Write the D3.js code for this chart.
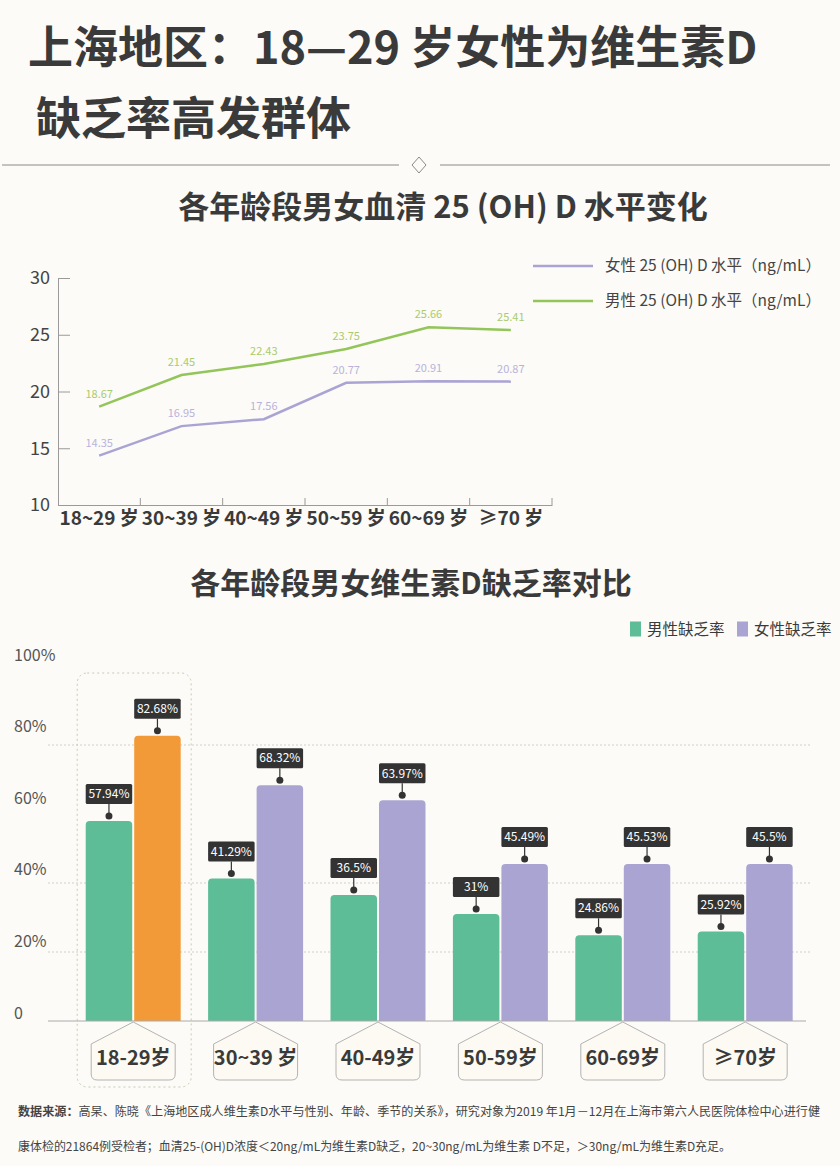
<!DOCTYPE html>
<html>
<head>
<meta charset="utf-8">
<script src="https://cdn.jsdelivr.net/npm/d3@7"></script>
<style>
    body { margin: 0; background: #fcfbf7; }
    svg { display: block; font-family: "Noto Sans CJK SC", "Noto Sans", sans-serif; }
</style>
</head>
<body>
<div id="chart"></div>
<script>
// Serum 25(OH)D level by age group (ng/mL).
const level_categories = ['18~29 岁', '30~39 岁', '40~49 岁', '50~59 岁', '60~69 岁', '≥70 岁'];
const female_level = [14.35, 16.95, 17.56, 20.77, 20.91, 20.87];
const male_level = [18.67, 21.45, 22.43, 23.75, 25.66, 25.41];
const level_ticks = [10, 15, 20, 25, 30];

// Vitamin D deficiency rate by age group (%).
const rate_categories = ['18-29岁', '30~39 岁', '40-49岁', '50-59岁', '60-69岁', '≥70岁'];
const male_rate = [57.94, 41.29, 36.5, 31, 24.86, 25.92];
const female_rate = [82.68, 68.32, 63.97, 45.49, 45.53, 45.5];
const rate_ticks = [0, 20, 40, 60, 80, 100];
const rate_grid = [20, 40, 80];

const text_color = '#3a3a3a';
const green_line = '#93c55a';
const purple_line = '#aaa4d4';
const green_bar = '#5cbd97';
const purple_bar = '#aaa4d2';
const orange_bar = '#f39a38';

const svg = d3.select('#chart')
    .append('svg')
    .attr('width', 840)
    .attr('height', 1166);

function draw_header() {
    const title = svg.append('g')
        .attr('fill', text_color)
        .attr('font-weight', 'bold')
        .attr('font-size', 45);
    title.append('text').attr('x', 28).attr('y', 64).text('上海地区：18—29 岁女性为维生素D');
    title.append('text').attr('x', 36).attr('y', 135).text('缺乏率高发群体');

    // divider with a small diamond in the middle
    const divider = svg.append('g')
        .attr('stroke', '#8a8a8a')
        .attr('fill', 'none')
        .attr('stroke-width', 1);
    divider.append('line').attr('x1', 2).attr('x2', 399).attr('y1', 165).attr('y2', 165);
    divider.append('line').attr('x1', 440).attr('x2', 830).attr('y1', 165).attr('y2', 165);
    divider.append('path').attr('d', 'M419,157 L426,165 L419,173 L412,165 Z');
}

function draw_level_chart() {
    const x = d3.scaleBand()
        .domain(level_categories)
        .range([58, 552]);
    const y = d3.scaleLinear()
        .domain([10, 30])
        .range([505, 278]);
    const cx = (c) => x(c) + x.bandwidth() / 2;

    svg.append('text')
        .attr('x', 443)
        .attr('y', 218)
        .attr('text-anchor', 'middle')
        .attr('font-size', 31)
        .attr('font-weight', 'bold')
        .attr('fill', text_color)
        .text('各年龄段男女血清 25 (OH) D 水平变化');

    const y_axis = svg.append('g')
        .attr('transform', 'translate(58, 0)')
        .call(d3.axisLeft(y)
            .tickValues(level_ticks)
            .tickSize(-12)
            .tickSizeOuter(0)
            .tickPadding(8));
    y_axis.selectAll('line, path').attr('stroke', '#9a9a9a');
    y_axis.selectAll('text')
        .attr('font-size', 18)
        .attr('fill', '#444')
        .attr('font-family', 'Noto Sans CJK SC');

    const x_axis = svg.append('g')
        .attr('transform', `translate(0, ${y(10)})`)
        .call(d3.axisBottom(x)
            .tickSize(0)
            .tickPadding(6));
    x_axis.select('path').attr('stroke', '#9a9a9a');
    x_axis.selectAll('text')
        .attr('font-size', 19)
        .attr('font-weight', 'bold')
        .attr('fill', text_color)
        .attr('font-family', 'Noto Sans CJK SC');
    // ticks sit on the band edges and point up
    x_axis.selectAll('.edge')
        .data(level_categories)
        .join('line')
            .attr('class', 'edge')
            .attr('x1', (d) => x(d) + x.bandwidth())
            .attr('x2', (d) => x(d) + x.bandwidth())
            .attr('y1', 0)
            .attr('y2', -7)
            .attr('stroke', '#9a9a9a');

    const series = [
        { values: female_level, line: purple_line, label: '#b9b3dc' },
        { values: male_level, line: green_line, label: '#a9cb70' },
    ];
    const line = d3.line()
        .x((d, i) => cx(level_categories[i]))
        .y((d) => y(d));

    for (const s of series) {
        svg.append('path')
            .attr('d', line(s.values))
            .attr('fill', 'none')
            .attr('stroke', s.line)
            .attr('stroke-width', 2.5);
        svg.append('g')
            .selectAll('text')
            .data(s.values)
            .join('text')
                .attr('x', (d, i) => cx(level_categories[i]))
                .attr('y', (d) => y(d) - 9)
                .attr('text-anchor', 'middle')
                .attr('font-size', 11)
                .attr('fill', s.label)
                .text((d) => d3.format('.2f')(d));
    }

    // legend
    const legend = [
        { name: '女性 25 (OH) D 水平（ng/mL）', color: purple_line, y: 266 },
        { name: '男性 25 (OH) D 水平（ng/mL）', color: green_line, y: 301 },
    ];
    const lg = svg.append('g')
        .selectAll('g')
        .data(legend)
        .join('g')
            .attr('transform', (d) => `translate(533, ${d.y})`);
    lg.append('line')
        .attr('x2', 60)
        .attr('stroke', (d) => d.color)
        .attr('stroke-width', 2.5);
    lg.append('text')
        .attr('x', 72)
        .attr('dy', '0.35em')
        .attr('font-size', 15.5)
        .attr('fill', '#444')
        .text((d) => d.name);
}

function draw_rate_chart() {
    const x0 = d3.scaleBand()
        .domain(rate_categories)
        .range([72, 806.4])
        .paddingInner(0.224)
        .paddingOuter(0.112);
    const x1 = d3.scaleBand()
        .domain(['male', 'female'])
        .range([0, x0.bandwidth()]);
    const y = d3.scaleLinear()
        .domain([0, 100])
        .range([1021, 676]);
    // tick labels are spaced on their own scale in the original
    const label_y = d3.scaleLinear()
        .domain([0, 100])
        .range([1013, 655]);

    svg.append('text')
        .attr('x', 411)
        .attr('y', 594)
        .attr('text-anchor', 'middle')
        .attr('font-size', 30)
        .attr('font-weight', 'bold')
        .attr('fill', text_color)
        .text('各年龄段男女维生素D缺乏率对比');

    // legend
    const legend = [
        { name: '男性缺乏率', color: green_bar, x: 630 },
        { name: '女性缺乏率', color: purple_bar, x: 737 },
    ];
    const lg = svg.append('g')
        .selectAll('g')
        .data(legend)
        .join('g')
            .attr('transform', (d) => `translate(${d.x}, 629)`);
    lg.append('rect')
        .attr('y', -7.5)
        .attr('width', 11)
        .attr('height', 15)
        .attr('fill', (d) => d.color);
    lg.append('text')
        .attr('x', 17)
        .attr('dy', '0.36em')
        .attr('font-size', 15.5)
        .attr('fill', text_color)
        .text((d) => d.name);

    svg.append('g')
        .selectAll('text')
        .data(rate_ticks)
        .join('text')
            .attr('x', 14)
            .attr('y', (d) => label_y(d))
            .attr('dy', '0.35em')
            .attr('font-size', 16)
            .attr('fill', '#555')
            .text((d) => d === 0 ? '0' : d + '%');

    svg.append('g')
        .selectAll('line')
        .data(rate_grid)
        .join('line')
            .attr('x1', 48)
            .attr('x2', 810)
            .attr('y1', (d) => y(d))
            .attr('y2', (d) => y(d))
            .attr('stroke', '#cfcfcf')
            .attr('stroke-dasharray', '2,2');

    // dotted frame around the highlighted group
    const hl = x0(rate_categories[0]) + x0.bandwidth() / 2;
    svg.append('rect')
        .attr('x', hl - 56)
        .attr('y', 673)
        .attr('width', 114)
        .attr('height', 414)
        .attr('rx', 10)
        .attr('fill', 'none')
        .attr('stroke', '#c5cdb3')
        .attr('stroke-dasharray', '2,3');

    const bars = [];
    rate_categories.forEach((c, i) => {
        bars.push({ cat: c, key: 'male', value: male_rate[i], color: green_bar });
        bars.push({ cat: c, key: 'female', value: female_rate[i], color: i === 0 ? orange_bar : purple_bar });
    });
    const bw = x1.bandwidth() - 1;
    const bar_x = (d) => x0(d.cat) + x1(d.key) + (d.key === 'male' ? 0 : 1);

    // bar with rounded top corners
    function bar_path(d) {
        const left = bar_x(d);
        const top = y(d.value);
        const bottom = y(0);
        const r = 4;
        return `M${left},${bottom} V${top + r} Q${left},${top} ${left + r},${top}` +
            ` H${left + bw - r} Q${left + bw},${top} ${left + bw},${top + r} V${bottom} Z`;
    }

    svg.append('g')
        .selectAll('path')
        .data(bars)
        .join('path')
            .attr('d', bar_path)
            .attr('fill', (d) => d.color);

    svg.append('line')
        .attr('x1', 48)
        .attr('x2', 806)
        .attr('y1', y(0))
        .attr('y2', y(0))
        .attr('stroke', '#aaa');

    // value callouts
    const callout = svg.append('g')
        .selectAll('g')
        .data(bars)
        .join('g')
            .attr('transform', (d) => `translate(${bar_x(d) + bw / 2}, ${y(d.value)})`);
    callout.append('line')
        .attr('y1', -17)
        .attr('y2', -5)
        .attr('stroke', '#333')
        .attr('stroke-width', 1.2);
    callout.append('circle')
        .attr('cy', -5)
        .attr('r', 3.5)
        .attr('fill', '#333');
    callout.append('rect')
        .attr('x', -bw / 2)
        .attr('y', -37)
        .attr('width', bw)
        .attr('height', 20)
        .attr('rx', 1.5)
        .attr('fill', '#333');
    callout.append('text')
        .attr('y', -27)
        .attr('dy', '0.35em')
        .attr('text-anchor', 'middle')
        .attr('font-size', 12)
        .attr('fill', '#fff')
        .text((d) => d.value + '%');

    // category tags, a box with a point that touches the axis
    const tag = svg.append('g')
        .selectAll('g')
        .data(rate_categories)
        .join('g')
            .attr('transform', (d) => `translate(${x0(d) + x0.bandwidth() / 2}, ${y(0)})`);
    tag.append('path')
        .attr('d', 'M0,1 L42,23 V53 Q42,59 36,59 H-36 Q-42,59 -42,53 V23 Z')
        .attr('fill', '#fcfaf2')
        .attr('stroke', '#b3b3b3')
        .attr('stroke-width', 1);
    tag.append('text')
        .attr('y', 37)
        .attr('dy', '0.35em')
        .attr('text-anchor', 'middle')
        .attr('font-size', 20)
        .attr('font-weight', 'bold')
        .attr('fill', text_color)
        .text((d) => d);
}

function draw_footnote() {
    // the source uses a condensed face, so squeeze the lines to its width
    const note = svg.append('g')
        .attr('font-size', 12)
        .attr('fill', '#444');
    const line1 = note.append('text')
        .attr('x', 18)
        .attr('y', 1116)
        .attr('textLength', 802)
        .attr('lengthAdjust', 'spacingAndGlyphs');
    line1.append('tspan').attr('font-weight', 'bold').text('数据来源：');
    line1.append('tspan').text('高杲、陈晓《上海地区成人维生素D水平与性别、年龄、季节的关系》，研究对象为2019 年1月－12月在上海市第六人民医院体检中心进行健');
    note.append('text')
        .attr('x', 18)
        .attr('y', 1151)
        .attr('textLength', 713)
        .attr('lengthAdjust', 'spacingAndGlyphs')
        .text('康体检的21864例受检者；血清25-(OH)D浓度＜20ng/mL为维生素D缺乏，20~30ng/mL为维生素 D不足，＞30ng/mL为维生素D充足。');
}

draw_header();
draw_level_chart();
draw_rate_chart();
draw_footnote();
</script>
</body>
</html>
